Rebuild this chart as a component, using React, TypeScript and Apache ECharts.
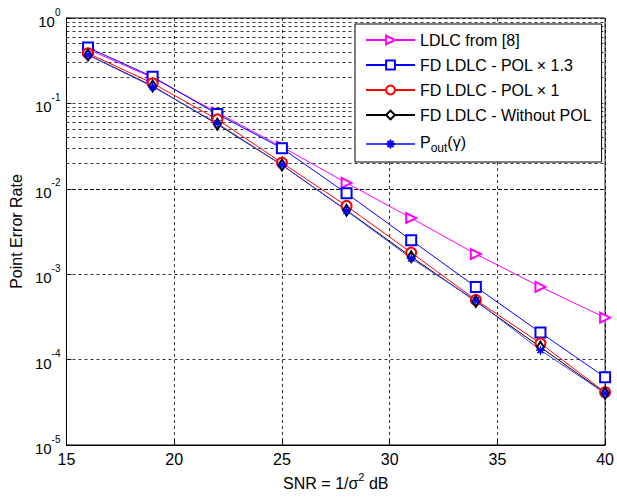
import React, { useEffect, useRef } from "react";
import * as echarts from "echarts";

const snr = [16, 19, 22, 25, 28, 31, 34, 37, 40];
const ldlc8 = [0.43, 0.2, 0.078, 0.031, 0.0117, 0.00455, 0.00172, 0.00071, 0.00031];
const pol13 = [0.45, 0.205, 0.075, 0.0298, 0.00885, 0.0025, 0.00071, 0.000207, 0.000062];
const pol1 = [0.386, 0.172, 0.065, 0.0202, 0.0063, 0.00179, 0.0005, 0.000155, 0.0000414];
const woPol = [0.37, 0.16, 0.057, 0.019, 0.0056, 0.0016, 0.00048, 0.00014, 0.0000405];
const pout = [0.369, 0.157, 0.0585, 0.019, 0.00554, 0.00153, 0.00049, 0.000129, 0.0000403];

const seriesNames = [
  "LDLC from [8]",
  "FD LDLC - POL × 1.3",
  "FD LDLC - POL × 1",
  "FD LDLC - Without POL",
  "Pout(γ)",
];
const decades = [-5, -4, -3, -2, -1];
const minorMult = [2, 3, 4, 5, 6, 7, 8, 9];

const FONT = "'Liberation Sans', Arial, sans-serif";

export default function App() {
  const ref = useRef<HTMLDivElement>(null);
  useEffect(() => {
    if (!ref.current) return;
    const chart = echarts.init(ref.current, null, { renderer: "svg" });
    const pair = (ys: number[]) => snr.map((x, i) => [x, ys[i]]);
    const minorLines: any[] = [];
    decades.forEach((d) =>
      minorMult.forEach((m) => minorLines.push({ yAxis: m * Math.pow(10, d) }))
    );
    const starPath =
      "path://M5,0L5,10M0,5L10,5M1.5,1.5L8.5,8.5M1.5,8.5L8.5,1.5";
    const option: any = {
      animation: false,
      backgroundColor: "#fff",
      textStyle: { fontFamily: FONT },
      grid: { left: 66, right: 6, top: 18, bottom: 54, show: true, borderColor: "#000", borderWidth: 1, backgroundColor: "transparent" },
      legend: {
        orient: "vertical",
        left: 355,
        top: 24,
        width: 246,
        height: 134,
        z: 50,
        padding: [8, 10, 8, 10],
        backgroundColor: "#fff",
        borderColor: "#000",
        borderWidth: 1,
        borderRadius: 0,
        itemWidth: 49,
        itemHeight: 11,
        itemGap: 9,
        data: seriesNames,
        formatter: (name: string) =>
          name === "Pout(γ)" ? "{n|P}{sub|out}{n|(γ)}" : name,
        textStyle: {
          fontSize: 16,
          lineHeight: 16,
          color: "#000",
          fontFamily: FONT,
          rich: {
            n: { fontSize: 16, color: "#000", fontFamily: FONT, lineHeight: 20, verticalAlign: "top" },
            sub: { fontSize: 12, color: "#000", fontFamily: FONT, lineHeight: 12, verticalAlign: "bottom", padding: [10, 0, 0, 0] },
          },
        },
      },
      xAxis: {
        type: "value",
        min: 15,
        max: 40,
        interval: 5,
        name: "{t|SNR = 1/σ}{s|2}{t| dB}",
        nameLocation: "middle",
        nameGap: 26,
        nameTextStyle: {
          rich: {
            t: { fontSize: 16, color: "#000", fontFamily: FONT, lineHeight: 20, verticalAlign: "bottom" },
            s: { fontSize: 11, color: "#000", fontFamily: FONT, lineHeight: 20, verticalAlign: "top", padding: [0, 0, 6, 0] },
          },
        },
        axisLine: { show: true, lineStyle: { color: "#000", width: 1 } },
        axisTick: { show: true, inside: true, length: 5, lineStyle: { color: "#000" } },
        axisLabel: { fontSize: 16, color: "#000", fontFamily: FONT, margin: 6 },
        splitLine: { show: true, lineStyle: { color: "#000", type: [3, 3], width: 0.8 } },
      },
      yAxis: {
        type: "log",
        logBase: 10,
        min: 1e-5,
        max: 1,
        name: "Point Error Rate",
        nameLocation: "middle",
        nameGap: 42,
        nameTextStyle: { fontSize: 16, color: "#000", fontFamily: FONT },
        axisLine: { show: true, lineStyle: { color: "#000", width: 1 } },
        axisTick: { show: true, inside: true, length: 5, lineStyle: { color: "#000" } },
        axisLabel: {
          color: "#000",
          margin: 6,
          formatter: (v: number) => {
            const e = Math.round(Math.log10(v));
            return "{b|10}{s|" + e + "}";
          },
          rich: {
            b: { fontSize: 15, color: "#000", fontFamily: FONT, lineHeight: 22, verticalAlign: "bottom", padding: [8, 0, 0, 0] },
            s: { fontSize: 10, color: "#000", fontFamily: FONT, lineHeight: 22, verticalAlign: "top" },
          },
        },
        splitLine: { show: true, lineStyle: { color: "#000", type: [3, 3], width: 0.8 } },
      },
      series: [
        {
          name: "minor",
          type: "line",
          data: [],
          silent: true,
          z: 1,
          markLine: {
            silent: true,
            symbol: "none",
            z: 1,
            label: { show: false },
            lineStyle: { color: "#000", type: [3, 3], width: 0.8 },
            data: minorLines,
          },
        },
        {
          name: seriesNames[0],
          type: "line",
          data: pair(ldlc8),
          color: "#ff00ff",
          symbol: "emptyTriangle",
          symbolRotate: -90,
          symbolSize: 10,
          lineStyle: { width: 1, color: "#ff00ff" },
          itemStyle: { color: "#ff00ff", borderWidth: 0.9 },
        },
        {
          name: seriesNames[1],
          type: "line",
          data: pair(pol13),
          color: "#0000ff",
          symbol: "emptyRect",
          symbolSize: 10,
          lineStyle: { width: 1, color: "#0000ff" },
          itemStyle: { color: "#0000ff", borderWidth: 0.9 },
        },
        {
          name: seriesNames[2],
          type: "line",
          data: pair(pol1),
          color: "#ff0000",
          symbol: "emptyCircle",
          symbolSize: 10,
          lineStyle: { width: 1, color: "#ff0000" },
          itemStyle: { color: "#ff0000", borderWidth: 0.9 },
        },
        {
          name: seriesNames[3],
          type: "line",
          data: pair(woPol),
          color: "#000000",
          symbol: "emptyDiamond",
          symbolSize: [7, 11],
          lineStyle: { width: 1, color: "#000" },
          itemStyle: { color: "#000", borderWidth: 0.9 },
        },
        {
          name: seriesNames[4],
          type: "line",
          data: pair(pout),
          color: "#0000ff",
          symbol: starPath,
          symbolSize: 9,
          lineStyle: { width: 1, color: "#4444ff" },
          itemStyle: { color: "#0000ff", borderColor: "#0000ff", borderWidth: 1.3 },
        },
      ],
    };
    chart.setOption(option);
    return () => chart.dispose();
  }, []);
  return <div ref={ref} style={{ width: 617, height: 499, position: "absolute", left: 0, top: 0 }} />;
}
